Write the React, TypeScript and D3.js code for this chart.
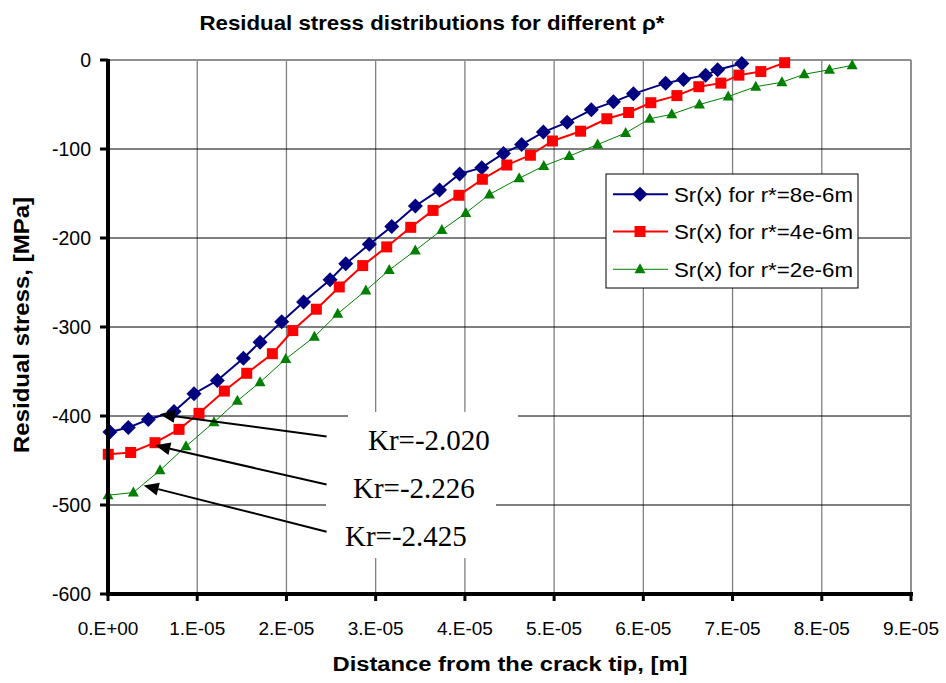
import React from "react";
import * as d3 from "d3";

// x in metres, y in MPa
const blueX = [0.22e-6, 2.28e-6, 4.52e-6, 7.40e-6, 9.64e-6, 12.25e-6, 15.17e-6, 17.04e-6, 19.47e-6, 21.92e-6, 24.89e-6, 26.65e-6, 29.29e-6, 31.80e-6, 34.45e-6, 37.16e-6, 39.41e-6, 41.89e-6, 44.32e-6, 46.36e-6, 48.80e-6, 51.46e-6, 54.17e-6, 56.65e-6, 58.89e-6, 62.50e-6, 64.50e-6, 66.98e-6, 68.33e-6, 71.04e-6];
const blueY = [-418, -413, -404, -395, -375, -360, -335, -317, -294, -272, -247, -229, -207, -187, -164, -146, -128, -121, -105, -95, -81, -70, -56, -47, -38, -26, -22, -17, -11, -4];

const redX = [0.03e-6, 2.54e-6, 5.27e-6, 7.96e-6, 10.20e-6, 13.04e-6, 15.55e-6, 18.42e-6, 20.71e-6, 23.35e-6, 25.92e-6, 28.55e-6, 31.24e-6, 33.93e-6, 36.43e-6, 39.33e-6, 41.96e-6, 44.70e-6, 47.34e-6, 49.81e-6, 52.97e-6, 55.91e-6, 58.35e-6, 60.84e-6, 63.76e-6, 66.22e-6, 68.69e-6, 70.71e-6, 73.17e-6, 75.84e-6];
const redY = [-443, -441, -430, -415, -397, -372, -352, -330, -304, -280, -255, -231, -210, -188, -169, -152, -134, -118, -107, -91, -80, -66, -59, -48, -40, -30, -26, -17, -13, -3];

const greenX = [0.0, 2.84e-6, 5.83e-6, 8.74e-6, 11.88e-6, 14.50e-6, 17.04e-6, 19.92e-6, 23.13e-6, 25.75e-6, 28.90e-6, 31.52e-6, 34.44e-6, 37.42e-6, 40.10e-6, 42.75e-6, 46.08e-6, 48.84e-6, 51.70e-6, 54.88e-6, 58.02e-6, 60.72e-6, 63.19e-6, 66.29e-6, 69.51e-6, 72.60e-6, 75.53e-6, 78.03e-6, 80.86e-6, 83.41e-6];
const greenY = [-489, -486, -461, -434, -407, -383, -362, -336, -311, -285, -259, -236, -214, -191, -172, -151, -133, -119, -108, -95, -82, -66, -61, -50, -41, -30, -25, -16, -11, -6];

const seriesNames = ["Sr(x) for r*=8e-6m", "Sr(x) for r*=4e-6m", "Sr(x) for r*=2e-6m"];

const xTicks = [0, 1e-5, 2e-5, 3e-5, 4e-5, 5e-5, 6e-5, 7e-5, 8e-5, 9e-5];
const xTickLabels = ["0.E+00", "1.E-05", "2.E-05", "3.E-05", "4.E-05", "5.E-05", "6.E-05", "7.E-05", "8.E-05", "9.E-05"];
const yTicks = [0, -100, -200, -300, -400, -500, -600];

// annotation: label, arrow start (x metres, y MPa), arrow tip (x metres, y MPa)
const annLabels = ["Kr=-2.020", "Kr=-2.226", "Kr=-2.425"];
const annTipX = [5.8e-6, 5.3e-6, 4.0e-6];
const annTipY = [-398, -433, -478];
const annFromX = [24.5e-6, 24.5e-6, 24.5e-6];
const annFromY = [-423, -477, -530];

const SANS = "'Liberation Sans', Arial, sans-serif";
const SERIF = "'Liberation Serif', 'Times New Roman', serif";

const W = 946, H = 683;
const L = 108, R = 911, T = 60, B = 594;

export default function App() {
  const x = d3.scaleLinear().domain([0, 9e-5]).range([L, R]);
  const y = d3.scaleLinear().domain([-600, 0]).range([B, T]);

  const series = [
    { xs: blueX, ys: blueY, color: "#000080", width: 2, marker: "diamond" },
    { xs: redX, ys: redY, color: "#FF0000", width: 2, marker: "square" },
    { xs: greenX, ys: greenY, color: "#008000", width: 1, marker: "triangle" },
  ];

  const line = d3.line<[number, number]>().x(d => x(d[0])).y(d => y(d[1]));

  const marker = (kind: string, cx: number, cy: number, color: string, key: any) => {
    if (kind === "diamond") {
      const s = 7.5;
      return <path key={key} d={`M${cx},${cy - s}L${cx + s},${cy}L${cx},${cy + s}L${cx - s},${cy}Z`} fill={color} />;
    }
    if (kind === "square") {
      const s = 5.5;
      return <rect key={key} x={cx - s} y={cy - s} width={2 * s} height={2 * s} fill={color} />;
    }
    const hw = 5.5, hh = 5;
    return <path key={key} d={`M${cx},${cy - hh - 1}L${cx + hw},${cy + hh - 1}L${cx - hw},${cy + hh - 1}Z`} fill={color} />;
  };

  const legX = 606, legY = 174, legW = 252, legH = 114;
  const rowY = [194.3, 231.5, 269.3];

  return (
    <svg width={W} height={H} style={{ position: "absolute", left: 0, top: 0, background: "#fff" }}>
      <rect x={0} y={0} width={W} height={H} fill="#fff" />
      {/* title */}
      <text x={432} y={30} textAnchor="middle" fontFamily={SANS} fontWeight="bold" fontSize={21}
        textLength={465} lengthAdjust="spacingAndGlyphs">Residual stress distributions for different ρ*</text>

      {/* vertical gridlines */}
      {xTicks.slice(1, -1).map((t, i) => (
        <line key={"vg" + i} x1={x(t)} x2={x(t)} y1={T} y2={B} stroke="#808080" strokeWidth={1.3} />
      ))}
      {/* horizontal gridlines */}
      {yTicks.slice(1, -1).map((t, i) => (
        <line key={"hg" + i} x1={L} x2={R} y1={y(t)} y2={y(t)} stroke="#000" strokeWidth={1} />
      ))}
      {/* plot border top/right */}
      <line x1={L} x2={R} y1={T} y2={T} stroke="#909090" strokeWidth={2} />
      <line x1={R} x2={R} y1={T} y2={B} stroke="#909090" strokeWidth={2} />

      {/* series */}
      {series.map((s, si) => {
        const pts: [number, number][] = s.xs.map((v, i) => [v, s.ys[i]]);
        return (
          <g key={"s" + si}>
            <path d={line(pts) || ""} fill="none" stroke={s.color} strokeWidth={s.width} />
            {pts.map((p, i) => marker(s.marker, x(p[0]), y(p[1]), s.color, i))}
          </g>
        );
      })}

      {/* annotation boxes */}
      {annLabels.map((lab, i) => {
        const baseY = [450, 498, 546][i];
        const left = [348, 326, 320][i];
        return <rect key={"ab" + i} x={left} y={baseY - 38} width={170} height={50} fill="#fff" />;
      })}
      {annLabels.map((lab, i) => {
        const baseY = [450, 498, 546][i];
        const tx = [368, 353, 345][i];
        return (
          <text key={"at" + i} x={tx} y={baseY} fontFamily={SERIF} fontSize={29} fill="#000">{lab}</text>
        );
      })}
      {/* arrows */}
      {annLabels.map((lab, i) => {
        const x1 = x(annFromX[i]), y1 = y(annFromY[i]);
        const x2 = x(annTipX[i]), y2 = y(annTipY[i]);
        const ang = Math.atan2(y2 - y1, x2 - x1);
        const len = 15, hw = 6.5;
        const bx = x2 - len * Math.cos(ang), by = y2 - len * Math.sin(ang);
        const px = -Math.sin(ang) * hw, py = Math.cos(ang) * hw;
        return (
          <g key={"ar" + i}>
            <line x1={x1} y1={y1} x2={bx} y2={by} stroke="#000" strokeWidth={2} />
            <path d={`M${x2},${y2}L${bx + px},${by + py}L${bx - px},${by - py}Z`} fill="#000" />
          </g>
        );
      })}

      {/* axes */}
      <line x1={L} x2={L} y1={T - 1} y2={B + 2} stroke="#000" strokeWidth={4} />
      <line x1={L - 2} x2={R + 2} y1={B} y2={B} stroke="#000" strokeWidth={4} />
      {yTicks.map((t, i) => (
        <g key={"yt" + i}>
          <line x1={L - 8} x2={L} y1={y(t)} y2={y(t)} stroke="#000" strokeWidth={3} />
          <text x={91} y={y(t) + 7} textAnchor="end" fontFamily={SANS} fontSize={19.5} fill="#000">{t}</text>
        </g>
      ))}
      {xTicks.map((t, i) => (
        <g key={"xt" + i}>
          <line x1={x(t)} x2={x(t)} y1={B} y2={B + 7} stroke="#000" strokeWidth={3} />
          <text x={x(t)} y={635} textAnchor="middle" fontFamily={SANS} fontSize={19} fill="#000">{xTickLabels[i]}</text>
        </g>
      ))}

      {/* axis titles */}
      <text transform="translate(29,325) rotate(-90)" textAnchor="middle" fontFamily={SANS} fontWeight="bold"
        fontSize={22} textLength={256} lengthAdjust="spacingAndGlyphs">Residual stress, [MPa]</text>
      <text x={510} y={671} textAnchor="middle" fontFamily={SANS} fontWeight="bold" fontSize={20}
        textLength={355} lengthAdjust="spacingAndGlyphs">Distance from the crack tip, [m]</text>

      {/* legend */}
      <rect x={legX} y={legY} width={legW} height={legH} fill="#fff" stroke="#000" strokeWidth={1} />
      {series.map((s, i) => (
        <g key={"lg" + i}>
          <line x1={613} x2={668} y1={rowY[i]} y2={rowY[i]} stroke={s.color} strokeWidth={s.width} />
          {marker(s.marker, 640, rowY[i], s.color, "m")}
          <text x={674} y={rowY[i] + 7.5} fontFamily={SANS} fontSize={20.5} fill="#000"
            textLength={179} lengthAdjust="spacingAndGlyphs">{seriesNames[i]}</text>
        </g>
      ))}
    </svg>
  );
}
